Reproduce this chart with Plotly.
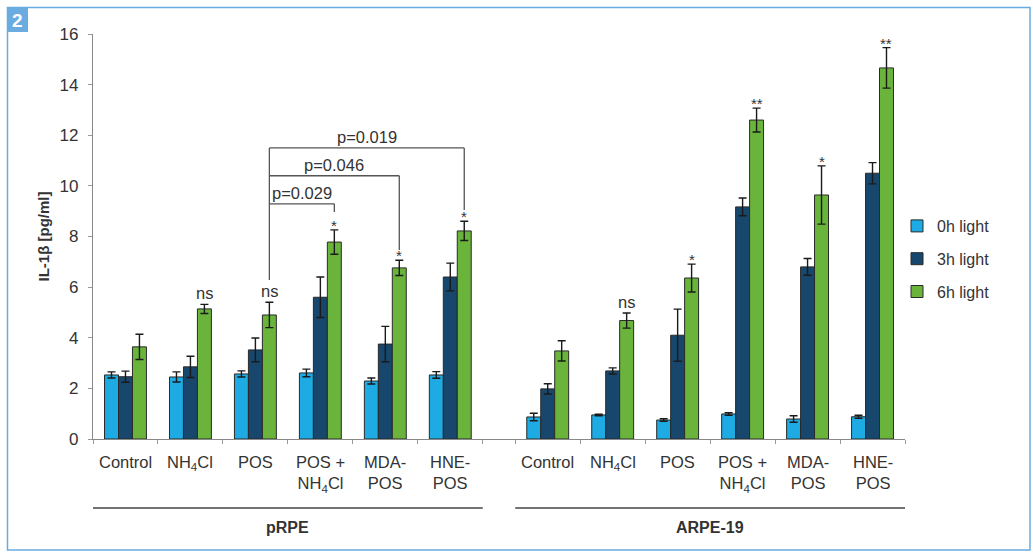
import plotly.graph_objects as go

# ---------------- data ----------------
categories = ["Control", "NH<sub>4</sub>Cl", "POS", "POS +<br>NH<sub>4</sub>Cl", "MDA-<br>POS", "HNE-<br>POS"]
cell_lines = ["pRPE", "ARPE-19"]
series_names = ["0h light", "3h light", "6h light"]

prpe_0h = [2.53, 2.45, 2.57, 2.61, 2.29, 2.53]
prpe_0h_err = [0.12, 0.20, 0.12, 0.15, 0.12, 0.13]
prpe_3h = [2.46, 2.85, 3.52, 5.60, 3.75, 6.40]
prpe_3h_err = [0.22, 0.42, 0.47, 0.80, 0.70, 0.55]
prpe_6h = [3.64, 5.14, 4.90, 7.78, 6.76, 8.22]
prpe_6h_err = [0.50, 0.18, 0.50, 0.48, 0.30, 0.38]

arpe_0h = [0.87, 0.95, 0.75, 0.99, 0.79, 0.88]
arpe_0h_err = [0.15, 0.03, 0.05, 0.05, 0.13, 0.06]
arpe_3h = [1.98, 2.69, 4.10, 9.17, 6.80, 10.50]
arpe_3h_err = [0.20, 0.12, 1.03, 0.35, 0.33, 0.42]
arpe_6h = [3.48, 4.68, 6.36, 12.60, 9.64, 14.66]
arpe_6h_err = [0.40, 0.30, 0.55, 0.47, 1.15, 0.80]

prpe_sig = ["", "ns", "ns", "*", "*", "*"]
arpe_sig = ["", "ns", "*", "**", "*", "**"]

p_labels = ["p=0.029", "p=0.046", "p=0.019"]
y_ticks = [0, 2, 4, 6, 8, 10, 12, 14, 16]

# ---------------- layout helpers ----------------
prpe_pos = [0.5 + i for i in range(6)]
arpe_pos = [7.0 + i for i in range(6)]
xpos = prpe_pos + arpe_pos
W = 0.215

colors = ["#1eaae2", "#17476c", "#6ab43c"]
vals = [prpe_0h + arpe_0h, prpe_3h + arpe_3h, prpe_6h + arpe_6h]
errs = [prpe_0h_err + arpe_0h_err, prpe_3h_err + arpe_3h_err, prpe_6h_err + arpe_6h_err]
offsets = [-1.5 * W, -0.5 * W, 0.5 * W]

L, R, T, B = 93, 905, 34, 439
FIG_W, FIG_H = 1033, 552


def px(xp):
    return (xp - L) / (R - L)


def py(yp):
    return (B - yp) / (B - T)


FONT = "Liberation Sans, Arial, sans-serif"
TXT = "#333333"

fig = go.Figure()
for k in range(3):
    fig.add_trace(go.Bar(
        x=xpos, y=vals[k], name=series_names[k],
        width=W, offset=offsets[k],
        marker=dict(color=colors[k], line=dict(color="#2a2a2a", width=1)),
        error_y=dict(type="data", array=errs[k], visible=True,
                     color="#1a1a1a", thickness=1.4, width=4),
        legendgroup=series_names[k],
    ))

shapes = []
annotations = []

# significance marks above 6h bars
sig_all = prpe_sig + arpe_sig
for i, s in enumerate(sig_all):
    if not s:
        continue
    top = vals[2][i] + errs[2][i]
    if s == "ns":
        annotations.append(dict(x=xpos[i] + W, y=top, text="ns", showarrow=False,
                                xref="x", yref="y", yanchor="bottom", yshift=0,
                                font=dict(family=FONT, size=16.5, color=TXT)))
    else:
        annotations.append(dict(x=xpos[i] + W, y=top, text=s, showarrow=False,
                                xref="x", yref="y", yanchor="bottom", yshift=-6,
                                font=dict(family=FONT, size=15, color=TXT)))

# brackets (pRPE)
c6 = [p + W for p in prpe_pos]
line_style = dict(color="#555555", width=1.3)
left_x = c6[2]
bracket_levels = [9.29, 10.4, 11.5]
drop_ends = [8.97, 7.47, 9.05]
targets = [3, 4, 5]
shapes.append(dict(type="line", xref="x", yref="y", x0=left_x, x1=left_x,
                   y0=6.28, y1=bracket_levels[-1], line=line_style))
for lvl, end, tgt, lab in zip(bracket_levels, drop_ends, targets, p_labels):
    shapes.append(dict(type="line", xref="x", yref="y", x0=left_x, x1=c6[tgt],
                       y0=lvl, y1=lvl, line=line_style))
    shapes.append(dict(type="line", xref="x", yref="y", x0=c6[tgt], x1=c6[tgt],
                       y0=lvl, y1=end, line=line_style))
    annotations.append(dict(x=(left_x + c6[tgt]) / 2, y=lvl, text=lab, showarrow=False,
                            xref="x", yref="y", yanchor="bottom", yshift=0,
                            font=dict(family=FONT, size=16.5, color=TXT)))

# category labels
for i, xp in enumerate(xpos):
    annotations.append(dict(x=xp, y=py(451), xref="x", yref="paper", text=categories[i % 6],
                            showarrow=False, yanchor="top", align="center",
                            font=dict(family=FONT, size=16.5, color=TXT)))

# group separator lines and labels
groups = [(0, 6, 3, cell_lines[0]), (6.5, 12.5, 9.5, cell_lines[1])]
for x0, x1, xc, name in groups:
    shapes.append(dict(type="line", xref="x", yref="paper", x0=x0, x1=x1,
                       y0=py(508), y1=py(508), line=dict(color="#444444", width=1.5)))
    annotations.append(dict(x=xc, y=py(527), xref="x", yref="paper", text="<b>%s</b>" % name,
                            showarrow=False, yanchor="middle",
                            font=dict(family=FONT, size=16, color=TXT)))

# frame and panel tag
shapes.append(dict(type="rect", xref="paper", yref="paper", x0=px(7.5), x1=px(1030),
                   y0=py(550), y1=py(7.5), line=dict(color="#6aace0", width=1.5), layer="below"))
shapes.append(dict(type="rect", xref="paper", yref="paper", x0=px(7), x1=px(28),
                   y0=py(32), y1=py(7), fillcolor="#6aace0", line=dict(width=0), layer="below"))
annotations.append(dict(x=px(17.5), y=py(20), xref="paper", yref="paper", text="<b>2</b>",
                        showarrow=False, xanchor="center", yanchor="middle",
                        font=dict(family=FONT, size=19, color="white")))

fig.update_layout(
    width=FIG_W, height=FIG_H,
    margin=dict(l=L, r=FIG_W - R, t=T, b=FIG_H - B),
    paper_bgcolor="white", plot_bgcolor="white",
    barmode="overlay",
    showlegend=True,
    legend=dict(x=px(897), y=py(259), xanchor="left", yanchor="middle",
                font=dict(family=FONT, size=16, color=TXT), tracegroupgap=9,
                bgcolor="rgba(0,0,0,0)"),
    xaxis=dict(range=[0, 12.5], showgrid=False, zeroline=False,
               showline=True, linecolor="#888888", linewidth=1.2,
               tickvals=[0, 1, 2, 3, 4, 5, 6, 6.5, 7.5, 8.5, 9.5, 10.5, 11.5, 12.5],
               ticks="outside", ticklen=4, tickcolor="#999999", showticklabels=False),
    yaxis=dict(range=[0, 16], showgrid=False, zeroline=False,
               showline=True, linecolor="#888888", linewidth=1.2,
               tickvals=y_ticks, ticks="outside", ticklen=4, tickcolor="#999999",
               ticklabelstandoff=6,
               tickfont=dict(family=FONT, size=17, color=TXT),
               title=dict(text="<b>IL-1β [pg/ml]</b>", standoff=6,
                          font=dict(family=FONT, size=15, color=TXT))),
    shapes=shapes, annotations=annotations,
)

fig.write_html("out.html", config={"displayModeBar": False},
               post_script="document.body.style.margin='0';document.body.style.overflow='hidden';")
